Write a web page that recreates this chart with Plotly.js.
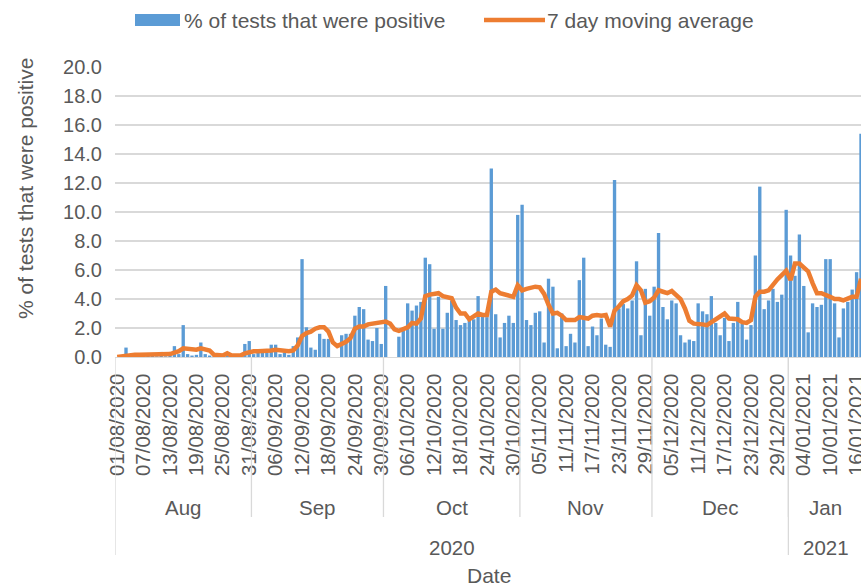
<!DOCTYPE html>
<html>
<head>
<meta charset="utf-8">
<script src="https://cdn.plot.ly/plotly-3.0.1.min.js"></script>
<style>
  html, body { margin: 0; padding: 0; background: #ffffff; overflow: hidden; }
  #chart { width: 861px; height: 586px; }
</style>
</head>
<body>
<div id="chart"></div>
<script>
// ---------- DATA ----------
const startDate = '2020-08-01';
const dayCount = 170;

// % of tests that were positive (daily)
const positivePct = [
  0.0, 0.0, 0.65, 0.1, 0.05, 0.1, 0.05, 0.1, 0.1, 0.05,
  0.35, 0.05, 0.15, 0.75, 0.2, 2.2, 0.2, 0.1, 0.15, 1.0,
  0.2, 0.1, 0.05, 0.05, 0.05, 0.25, 0.05, 0.05, 0.1, 0.9,
  1.1, 0.2, 0.3, 0.45, 0.3, 0.85, 0.85, 0.2, 0.3, 0.15,
  0.75, 1.35, 6.75, 2.05, 0.65, 0.5, 1.6, 1.25, 1.25, 0.0,
  0.0, 1.5, 1.6, 1.6, 2.85, 3.45, 3.3, 1.2, 1.1, 2.0,
  0.9, 4.9, 0.0, 0.0, 1.4, 1.85, 3.7, 3.2, 3.55, 3.8,
  6.85, 6.4, 1.95, 4.15, 1.95, 3.05, 3.9, 2.55, 2.2, 2.35,
  2.55, 2.6, 4.2, 3.0, 2.75, 13.0, 2.95, 1.35, 2.35, 2.85,
  2.35, 9.8, 10.5, 2.55, 2.2, 3.05, 3.15, 1.0, 5.4, 4.85,
  0.6, 3.0, 0.75, 1.6, 1.0, 5.3, 6.85, 0.75, 2.1, 1.5,
  2.65, 0.85, 0.7, 12.2, 3.35, 3.65, 3.35, 3.9, 6.6, 1.5,
  4.7, 2.85, 4.85, 8.55, 3.45, 2.6, 3.9, 3.7, 1.5, 1.0,
  1.2, 1.1, 3.7, 3.15, 2.95, 4.2, 2.35, 1.5, 2.7, 1.1,
  2.35, 3.8, 2.3, 1.2, 2.2, 7.0, 11.75, 3.3, 3.9, 4.7,
  3.8, 4.3, 10.15, 7.0, 5.6, 8.45, 4.9, 1.7, 3.7, 3.45,
  3.6, 6.75, 6.75, 3.7, 1.35, 3.35, 3.8, 4.65, 5.85, 15.4
];

// 7 day moving average
const movingAvg = [
  0.0, 0.05, 0.12, 0.15, 0.15, 0.15, 0.15, 0.15, 0.15, 0.15,
  0.15, 0.15, 0.2, 0.3, 0.4, 0.6, 0.55, 0.5, 0.5, 0.6,
  0.55, 0.45, 0.15, 0.1, 0.1, 0.25, 0.1, 0.1, 0.1, 0.25,
  0.35, 0.4, 0.4, 0.4, 0.4, 0.45, 0.5, 0.45, 0.4, 0.4,
  0.45, 0.8, 1.45, 1.65, 1.75, 1.95, 2.05, 2.05, 1.75, 1.0,
  0.75, 0.9, 1.05, 1.3, 1.95, 2.1, 2.1, 2.25, 2.3, 2.3,
  2.4, 2.45, 2.3, 1.9, 1.8, 1.9, 2.05, 2.35, 2.3, 2.65,
  4.2, 4.3, 4.35, 4.4, 4.2, 4.15, 4.05, 3.4, 3.0, 3.0,
  2.6, 2.8, 3.0, 2.9, 2.9, 4.5, 4.65, 4.4, 4.3, 4.2,
  4.15, 4.95, 4.6, 4.7, 4.75, 4.85, 4.8, 4.35, 3.6, 3.0,
  3.05, 2.85, 2.55, 2.55, 2.55, 2.75, 2.7, 2.65, 2.85, 2.9,
  2.85, 2.9, 2.1, 3.2, 3.5, 3.85, 4.0, 4.25, 4.95, 4.6,
  3.75, 3.85, 4.1, 4.6, 4.5, 4.4, 4.55, 4.25, 4.0, 3.35,
  2.5, 2.3, 2.3, 2.25, 2.2, 2.4, 2.6, 2.8, 3.0, 2.65,
  2.65, 2.6, 2.4, 2.35, 2.55, 4.15, 4.5, 4.5, 4.6, 5.0,
  5.35, 5.65, 5.95, 5.3, 6.45, 6.45, 6.2, 5.9, 5.1, 4.4,
  4.4, 4.3, 4.15, 4.0, 4.0, 3.9, 4.05, 4.15, 4.15, 5.4
];

const tickLabels = [
  '01/08/2020','07/08/2020','13/08/2020','19/08/2020','25/08/2020','31/08/2020',
  '06/09/2020','12/09/2020','18/09/2020','24/09/2020','30/09/2020',
  '06/10/2020','12/10/2020','18/10/2020','24/10/2020','30/10/2020',
  '05/11/2020','11/11/2020','17/11/2020','23/11/2020','29/11/2020',
  '05/12/2020','11/12/2020','17/12/2020','23/12/2020','29/12/2020',
  '04/01/2021','10/01/2021','16/01/2021'
];

const monthNames = ['Aug', 'Sep', 'Oct', 'Nov', 'Dec', 'Jan'];
const monthFirstDay = [0, 31, 61, 92, 122, 153];
const yearNames = ['2020', '2021'];
const yearFirstDay = [0, 153];

const yTicks = [0, 2, 4, 6, 8, 10, 12, 14, 16, 18, 20];

// ---------- BUILD ----------
function fmt(d) {
  const dd = String(d.getUTCDate()).padStart(2, '0');
  const mm = String(d.getUTCMonth() + 1).padStart(2, '0');
  return dd + '/' + mm + '/' + d.getUTCFullYear();
}
const dates = [];
const base = new Date(startDate + 'T00:00:00Z');
for (let i = 0; i < dayCount; i++) {
  dates.push(fmt(new Date(base.getTime() + i * 86400000)));
}

const W = 861, H = 586;
const M = { l: 115, r: 0, t: 67, b: 229 };
const plotW = W - M.l - M.r, plotH = H - M.t - M.b;
const px2x = px => (px - M.l) / plotW;
const px2y = py => (M.t + plotH - py) / plotH;

const grey = '#595959';
const fontFam = '"Liberation Sans", Arial, sans-serif';
const xEnd = dayCount - 1;

const shapes = [];
const annotations = [];

// month separators and labels
monthNames.forEach((m, k) => {
  const first = monthFirstDay[k];
  const last = (k + 1 < monthFirstDay.length) ? monthFirstDay[k + 1] - 1 : xEnd;
  annotations.push({
    text: m, xref: 'x', yref: 'paper', x: (first + last) / 2, y: px2y(507),
    showarrow: false, xanchor: 'center', yanchor: 'middle',
    font: { family: fontFam, size: 20.5, color: grey }
  });
  if (k > 0) {
    shapes.push({
      type: 'line', xref: 'x', yref: 'paper', x0: first - 0.5, x1: first - 0.5,
      y0: 0, y1: px2y(517), line: { color: '#D9D9D9', width: 1.3 }
    });
  }
});
// year separators and labels
yearNames.forEach((yv, k) => {
  const first = yearFirstDay[k];
  const last = (k + 1 < yearFirstDay.length) ? yearFirstDay[k + 1] - 1 : xEnd;
  annotations.push({
    text: yv, xref: 'x', yref: 'paper', x: (first + last) / 2, y: px2y(547),
    showarrow: false, xanchor: 'center', yanchor: 'middle',
    font: { family: fontFam, size: 20.5, color: grey }
  });
  shapes.push({
    type: 'line', xref: 'x', yref: 'paper', x0: first - 0.5, x1: first - 0.5,
    y0: 0, y1: px2y(555), line: { color: '#D9D9D9', width: 1.3 }
  });
});

// axis titles
annotations.push({
  text: 'Date', xref: 'paper', yref: 'paper', x: px2x(489), y: px2y(575),
  showarrow: false, xanchor: 'center', yanchor: 'middle',
  font: { family: fontFam, size: 21, color: grey }
});
annotations.push({
  text: '% of tests that were positive', xref: 'paper', yref: 'paper',
  x: px2x(25), y: px2y(189), textangle: -90,
  showarrow: false, xanchor: 'center', yanchor: 'middle',
  font: { family: fontFam, size: 21, color: grey }
});

// custom legend
shapes.push({
  type: 'rect', xref: 'paper', yref: 'paper',
  x0: px2x(135), x1: px2x(180), y0: px2y(26), y1: px2y(14),
  fillcolor: '#5B9BD5', line: { width: 0 }
});
annotations.push({
  text: '% of tests that were positive', xref: 'paper', yref: 'paper',
  x: px2x(182), y: px2y(20), showarrow: false, xanchor: 'left', yanchor: 'middle',
  font: { family: fontFam, size: 21, color: grey }
});
shapes.push({
  type: 'line', xref: 'paper', yref: 'paper',
  x0: px2x(484), x1: px2x(545), y0: px2y(20), y1: px2y(20),
  line: { color: '#ED7D31', width: 4.5 }
});
annotations.push({
  text: '7 day moving average', xref: 'paper', yref: 'paper',
  x: px2x(545), y: px2y(20), showarrow: false, xanchor: 'left', yanchor: 'middle',
  font: { family: fontFam, size: 21, color: grey }
});

const traces = [
  {
    type: 'bar', x: dates, y: positivePct, name: '% of tests that were positive',
    marker: { color: '#5B9BD5', line: { width: 0 } }, hoverinfo: 'skip'
  },
  {
    type: 'scatter', mode: 'lines', x: dates, y: movingAvg, name: '7 day moving average',
    line: { color: '#ED7D31', width: 4.5 }, hoverinfo: 'skip'
  }
];

const layout = {
  width: W, height: H,
  margin: M,
  paper_bgcolor: '#ffffff', plot_bgcolor: '#ffffff',
  showlegend: false,
  bargap: 0.24,
  font: { family: fontFam, color: grey, size: 20 },
  xaxis: {
    type: 'category',
    range: [-0.5, xEnd],
    tickmode: 'array', tickvals: tickLabels, ticktext: tickLabels,
    tickangle: -90, ticks: '', ticklabelstandoff: 7,
    tickfont: { family: fontFam, size: 20.5, color: grey },
    showgrid: false, zeroline: false,
    showline: true, linecolor: '#D9D9D9', linewidth: 1.3,
    fixedrange: true
  },
  yaxis: {
    range: [0, 20],
    tickmode: 'array', tickvals: yTicks, ticktext: yTicks.map(v => v.toFixed(1)),
    ticks: '', ticklabelstandoff: 12,
    tickfont: { family: fontFam, size: 20, color: grey },
    showgrid: true, gridcolor: '#D9D9D9', gridwidth: 1.3,
    zeroline: false, showline: false, fixedrange: true
  },
  shapes: shapes,
  annotations: annotations
};

Plotly.newPlot('chart', traces, layout, { staticPlot: true, displayModeBar: false });
</script>
</body>
</html>
